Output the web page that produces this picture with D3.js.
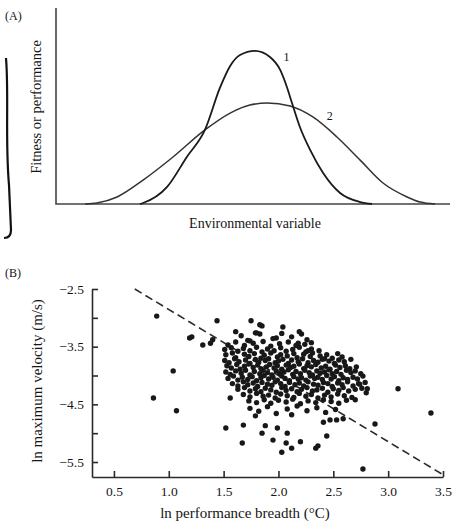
<!DOCTYPE html>
<html><head><meta charset="utf-8">
<script src="https://cdn.jsdelivr.net/npm/d3@7"></script>
<style>body{margin:0;background:#fff}svg{display:block}text{font-family:"Liberation Serif","DejaVu Serif",serif;fill:#151515}</style>
</head><body>
<svg id="c" width="459" height="527"></svg>
<script>
// ---------- Panel A data ----------
const curve1X = [21.3,22.1,28.2,33.2,37.8,41.6,44.2,46.7,50.5,54.3,56.9,58.6,59.9,61.9,64.5,67.8,72.1,77.2,80.2];
const curve1Y = [0,0.5,8.7,24.0,37.8,59.2,70.4,76.0,78.1,75.0,68.4,59.7,51.5,39.3,27.6,15.8,5.6,1.0,0];
const curve2X = [7.4,10.4,15.5,22.1,29.7,37.8,44.2,49.2,53.6,59.4,65.2,71.3,77.2,83.0,89.1,92.4,96.2];
const curve2Y = [0,0.5,3.6,12.2,24.0,37.8,46.4,50.5,51.5,50.0,44.4,34.2,22.4,10.7,3.6,1.0,0];
const curveLabels = ["1","2"];
const curveLabelX = [58.5,69.5];
const curveLabelY = [73,43];

// ---------- Panel B data ----------
const xTicks = [0.5,1.0,1.5,2.0,2.5,3.0,3.5];
const yTicks = [-2.5,-3.0,-3.5,-4.0,-4.5,-5.0,-5.5];
const yTickLabels = {"-2.5":"−2.5","-3.5":"−3.5","-4.5":"−4.5","-5.5":"−5.5"};
const fitLineX = [0.69,3.5];
const fitLineY = [-2.5,-5.72];
// outlying points
const outX = [0.89,1.04,0.86,1.07,1.19,1.21,1.31,1.38,1.40,1.44,1.75,1.61,2.04,1.85,1.83,1.79,1.98,2.21,2.19,2.18,2.27,3.09,3.39,2.88,2.77,2.44,2.34,2.36,2.20,2.12,2.07,2.08,2.03,1.99,1.95,1.88,1.85,1.68,1.67,1.52,1.56,2.70,2.81,2.80,2.74,1.74,1.80,2.42,2.58,2.41,2.47,2.53,2.59];
const outY = [-2.97,-3.92,-4.39,-4.61,-3.35,-3.33,-3.47,-3.44,-3.38,-3.05,-3.05,-3.24,-3.16,-3.14,-3.12,-3.26,-3.35,-3.28,-3.24,-3.44,-3.57,-4.23,-4.65,-4.84,-5.62,-5.05,-5.26,-5.22,-5.15,-5.26,-5.17,-5.00,-5.33,-4.91,-5.12,-4.87,-5.00,-4.86,-5.17,-4.91,-4.39,-4.42,-4.23,-4.30,-4.15,-3.40,-3.26,-3.71,-3.68,-4.81,-4.77,-4.77,-4.75];
// main cluster, by rows
const clX = [
 1.66,1.83,1.95,2.12,2.26,1.72,2.03,
 1.54,1.61,1.69,1.77,1.86,1.93,2.01,2.09,2.16,2.24,2.30,
 1.51,1.57,1.63,1.68,1.74,1.80,1.85,1.90,1.96,2.02,2.07,2.13,2.19,2.25,2.30,2.37,
 1.52,1.58,1.61,1.69,1.73,1.78,1.84,1.87,1.93,1.99,2.02,2.08,2.14,2.17,2.23,2.29,2.31,2.38,2.44,2.49,2.54,
 1.51,1.55,1.60,1.64,1.70,1.74,1.79,1.82,1.88,1.91,1.97,2.00,2.04,2.09,2.12,2.18,2.22,2.27,2.32,2.36,2.40,2.46,2.51,2.55,2.60,2.66,
 1.53,1.57,1.62,1.65,1.69,1.73,1.77,1.81,1.84,1.89,1.92,1.96,1.99,2.03,2.07,2.11,2.14,2.19,2.23,2.26,2.30,2.34,2.39,2.43,2.47,2.52,2.56,2.61,2.65,2.71,
 1.52,1.56,1.61,1.66,1.70,1.74,1.78,1.83,1.86,1.90,1.94,1.98,2.01,2.05,2.09,2.13,2.16,2.20,2.24,2.28,2.31,2.35,2.38,2.42,2.46,2.49,2.53,2.57,2.62,2.66,2.70,2.75,
 1.54,1.59,1.63,1.67,1.72,1.76,1.80,1.84,1.87,1.91,1.95,1.99,2.03,2.06,2.10,2.14,2.18,2.21,2.25,2.29,2.33,2.36,2.40,2.44,2.48,2.51,2.55,2.59,2.63,2.68,2.72,2.77,
 1.58,1.63,1.68,1.72,1.77,1.81,1.85,1.90,1.94,1.97,2.02,2.06,2.10,2.15,2.19,2.23,2.27,2.32,2.36,2.41,2.45,2.49,2.54,2.58,2.63,2.68,2.73,2.79,
 1.63,1.69,1.74,1.79,1.84,1.88,1.93,1.98,2.03,2.07,2.12,2.17,2.21,2.26,2.31,2.35,2.40,2.45,2.50,2.55,2.59,2.64,2.70,2.76,
 1.68,1.74,1.80,1.86,1.91,1.97,2.02,2.08,2.14,2.19,2.25,2.30,2.36,2.42,2.48,2.54,2.60,2.67,
 1.73,1.80,1.87,1.93,2.00,2.07,2.13,2.20,2.27,2.34,2.41,2.48,2.55,2.62,
 1.74,1.82,1.90,1.98,2.08,2.17,2.26,2.35,2.43,2.52,1.79,2.12];
const clY = [
 -3.31,-3.28,-3.36,-3.33,-3.38,-3.39,-3.27,
 -3.47,-3.42,-3.48,-3.44,-3.41,-3.49,-3.45,-3.42,-3.48,-3.46,-3.43,
 -3.55,-3.52,-3.58,-3.53,-3.57,-3.51,-3.59,-3.54,-3.57,-3.52,-3.58,-3.55,-3.51,-3.59,-3.54,-3.57,
 -3.64,-3.61,-3.69,-3.63,-3.67,-3.62,-3.70,-3.65,-3.61,-3.68,-3.64,-3.66,-3.62,-3.69,-3.63,-3.67,-3.61,-3.66,-3.64,-3.70,-3.62,
 -3.74,-3.78,-3.71,-3.76,-3.73,-3.79,-3.72,-3.77,-3.74,-3.71,-3.78,-3.75,-3.72,-3.79,-3.73,-3.76,-3.71,-3.78,-3.74,-3.77,-3.72,-3.75,-3.79,-3.73,-3.76,-3.72,
 -3.83,-3.87,-3.81,-3.89,-3.84,-3.80,-3.86,-3.82,-3.88,-3.85,-3.81,-3.87,-3.83,-3.89,-3.82,-3.86,-3.84,-3.80,-3.88,-3.83,-3.85,-3.81,-3.87,-3.84,-3.89,-3.82,-3.86,-3.83,-3.88,-3.85,
 -3.94,-3.98,-3.92,-3.96,-3.91,-3.99,-3.93,-3.97,-3.91,-3.95,-3.99,-3.92,-3.96,-3.94,-3.90,-3.98,-3.93,-3.97,-3.91,-3.95,-3.99,-3.92,-3.96,-3.94,-3.90,-3.97,-3.93,-3.98,-3.91,-3.95,-3.92,-3.97,
 -4.05,-4.01,-4.08,-4.03,-4.07,-4.02,-4.09,-4.04,-4.00,-4.06,-4.03,-4.08,-4.01,-4.05,-4.09,-4.02,-4.06,-4.04,-4.08,-4.01,-4.05,-4.03,-4.07,-4.00,-4.06,-4.02,-4.09,-4.04,-4.07,-4.03,-4.06,-4.01,
 -4.14,-4.18,-4.11,-4.16,-4.13,-4.19,-4.12,-4.15,-4.17,-4.11,-4.14,-4.19,-4.12,-4.16,-4.13,-4.18,-4.11,-4.15,-4.17,-4.12,-4.14,-4.19,-4.13,-4.16,-4.11,-4.18,-4.14,-4.12,
 -4.24,-4.21,-4.27,-4.23,-4.28,-4.22,-4.25,-4.29,-4.21,-4.26,-4.23,-4.28,-4.24,-4.21,-4.27,-4.25,-4.22,-4.29,-4.23,-4.26,-4.21,-4.27,-4.24,-4.22,
 -4.33,-4.37,-4.31,-4.36,-4.34,-4.39,-4.32,-4.35,-4.38,-4.31,-4.36,-4.33,-4.39,-4.34,-4.37,-4.32,-4.35,-4.38,
 -4.44,-4.47,-4.42,-4.48,-4.43,-4.46,-4.41,-4.49,-4.44,-4.47,-4.42,-4.45,-4.48,-4.43,
 -4.57,-4.62,-4.54,-4.66,-4.58,-4.53,-4.61,-4.56,-4.64,-4.59,-4.70,-4.68];

const svg = d3.select("#c");

// ---------- Panel A ----------
const xA = d3.scaleLinear().domain([0,100]).range([56,450]);
const yA = d3.scaleLinear().domain([0,100]).range([204,8]);
const gA = svg.append("g");
gA.append("path").attr("d", `M${xA(0)},${yA(100)}V${yA(0)}H${xA(100)}`)
  .attr("fill","none").attr("stroke","#444").attr("stroke-width",1.6);
const lineA = d3.line().x(d=>xA(d[0])).y(d=>yA(d[1])).curve(d3.curveMonotoneX);
gA.append("path").datum(curve2X.map((x,i)=>[x,curve2Y[i]])).attr("d",lineA)
  .attr("fill","none").attr("stroke","#333").attr("stroke-width",1.5);
gA.append("path").datum(curve1X.map((x,i)=>[x,curve1Y[i]])).attr("d",lineA)
  .attr("fill","none").attr("stroke","#1a1a1a").attr("stroke-width",1.8);
curveLabels.forEach((t,i)=>gA.append("text").attr("x",xA(curveLabelX[i])).attr("y",yA(curveLabelY[i]))
  .attr("font-size",12).attr("text-anchor","middle").text(t));
gA.append("text").attr("x",5).attr("y",20).attr("font-size",12).text("(A)");
gA.append("text").attr("transform","translate(41,107) rotate(-90)").attr("text-anchor","middle")
  .attr("font-size",14.5).text("Fitness or performance");
gA.append("text").attr("x",255).attr("y",228).attr("text-anchor","middle").attr("font-size",14)
  .text("Environmental variable");
// hand-drawn bracket at left margin
gA.append("path").attr("d","M6,58 C9,95 5,140 9,185 L11,230 Q11,238 4,238")
  .attr("fill","none").attr("stroke","#111").attr("stroke-width",2.2);

// ---------- Panel B ----------
const xB = d3.scaleLinear().domain([0.3,3.5]).range([92,443]);
const yB = d3.scaleLinear().domain([-5.76,-2.5]).range([477,289]);
const gB = svg.append("g");
const ax = gB.append("g").attr("transform","translate(0,477)")
  .call(d3.axisBottom(xB).tickValues(xTicks).tickFormat(d3.format(".1f")).tickSizeInner(-6).tickSizeOuter(0).tickPadding(9));
const ay = gB.append("g").attr("transform","translate(92,0)")
  .call(d3.axisLeft(yB).tickValues(yTicks).tickFormat(d=>yTickLabels[String(d)]||"").tickSizeInner(-6).tickSizeOuter(0).tickPadding(8));
[ax,ay].forEach(a=>{a.selectAll("path,line").attr("stroke","#2a2a2a").attr("stroke-width",1.6);
  a.selectAll("text").attr("font-family","Liberation Serif").attr("font-size",13.5).attr("fill","#151515");});
gB.append("text").attr("x",5).attr("y",277).attr("font-size",12).text("(B)");
gB.append("text").attr("transform","translate(42,381) rotate(-90)").attr("text-anchor","middle")
  .attr("font-size",15).text("ln maximum velocity (m/s)");
gB.append("text").attr("x",245).attr("y",518).attr("text-anchor","middle").attr("font-size",15)
  .text("ln performance breadth (°C)");
gB.append("line").attr("x1",xB(fitLineX[0])).attr("y1",yB(fitLineY[0])).attr("x2",xB(fitLineX[1])).attr("y2",yB(fitLineY[1]))
  .attr("stroke","#2a2a2a").attr("stroke-width",1.6).attr("stroke-dasharray","8,4.5");
const pts = clX.map((x,i)=>[x,clY[i]]).concat(outX.map((x,i)=>[x,outY[i]]));
gB.append("g").selectAll("circle").data(pts).join("circle")
  .attr("cx",d=>xB(d[0])).attr("cy",d=>yB(d[1])).attr("r",2.7).attr("fill","#181818");
</script>
</body></html>
